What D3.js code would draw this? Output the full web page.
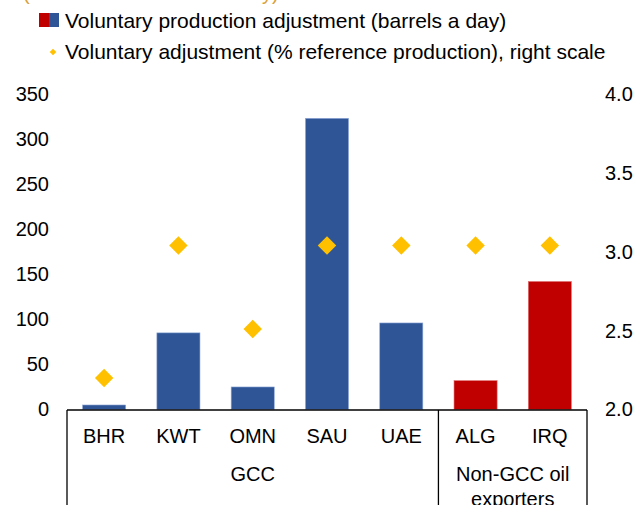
<!DOCTYPE html>
<html>
<head>
<meta charset="utf-8">
<script src="https://cdn.jsdelivr.net/npm/d3@7"></script>
<style>
  body { margin: 0; background: #fff; }
  svg text { font-family: "Liberation Sans", Arial, sans-serif; fill: #000; }
</style>
</head>
<body>
<div id="chart"></div>
<script>
// Data
var countries = ["BHR", "KWT", "OMN", "SAU", "UAE", "ALG", "IRQ"];
var groups = ["GCC", "GCC", "GCC", "GCC", "GCC", "Non-GCC", "Non-GCC"];
var barrels = [5, 85, 25, 323, 96, 32, 142];
var pctReference = [2.2, 3.04, 2.51, 3.04, 3.04, 3.04, 3.04];
var leftTicks = [0, 50, 100, 150, 200, 250, 300, 350];
var rightTicks = [2.0, 2.5, 3.0, 3.5, 4.0];
var groupLabels = [
    { name: "GCC", first: "BHR", last: "UAE", lines: ["GCC"] },
    { name: "Non-GCC", first: "ALG", last: "IRQ", lines: ["Non-GCC oil", "exporters"] }
];

var width = 639, height = 505;
var blue = "#2F5597", red = "#C00000", gold = "#FFC000";

var svg = d3.select("#chart")
    .append("svg")
    .attr("width", width)
    .attr("height", height);

var x = d3.scaleBand()
    .domain(countries)
    .range([67, 587])
    .paddingInner(0.42)
    .paddingOuter(0.21);

var y = d3.scaleLinear()
    .domain([0, 350])
    .range([409.5, 94]);

var y2 = d3.scaleLinear()
    .domain([2, 4])
    .range([409.5, 94]);

// cut-off title at the top (only descenders visible, as in the source)
svg.append("text")
    .attr("x", 23)
    .attr("y", 0)
    .style("font-size", "20px")
    .style("fill", "#D9A13B")
    .text("(Thousands of barrels a day)");

// legend
svg.append("rect").attr("x", 39).attr("y", 13).attr("width", 10).attr("height", 14).attr("fill", red);
svg.append("rect").attr("x", 49).attr("y", 13).attr("width", 10).attr("height", 14).attr("fill", blue);
svg.append("text")
    .attr("x", 65).attr("y", 28)
    .style("font-size", "21px")
    .text("Voluntary production adjustment (barrels a day)");

svg.append("path")
    .attr("d", d3.symbol().type(d3.symbolSquare).size(22)())
    .attr("transform", "translate(53,52) rotate(45)")
    .attr("fill", gold);
svg.append("text")
    .attr("x", 65).attr("y", 59)
    .style("font-size", "21px")
    .text("Voluntary adjustment (% reference production), right scale");

// left axis
var yAxis = svg.append("g")
    .attr("transform", "translate(49,0)")
    .call(d3.axisLeft(y).tickValues(leftTicks).tickSize(0).tickPadding(0).tickFormat(d3.format("d")));
yAxis.select(".domain").remove();
yAxis.selectAll("text").style("font-size", "20px").attr("font-family", null);

// right axis
var yAxis2 = svg.append("g")
    .attr("transform", "translate(605,0)")
    .call(d3.axisRight(y2).tickValues(rightTicks).tickSize(0).tickPadding(0).tickFormat(d3.format(".1f")));
yAxis2.select(".domain").remove();
yAxis2.selectAll("text").style("font-size", "20px").attr("font-family", null);

// bars
svg.selectAll(".bar")
    .data(countries)
    .enter().append("rect")
    .attr("class", "bar")
    .attr("x", function (d) { return x(d); })
    .attr("width", x.bandwidth())
    .attr("y", function (d, i) { return y(barrels[i]); })
    .attr("height", function (d, i) { return y(0) - y(barrels[i]); })
    .attr("fill", function (d, i) { return groups[i] === "GCC" ? blue : red; })
    .attr("stroke", function (d, i) { return groups[i] === "GCC" ? "#8FA8D8" : "#E07070"; })
    .attr("stroke-width", 0.6);

// diamonds (right scale)
svg.selectAll(".dot")
    .data(countries)
    .enter().append("path")
    .attr("class", "dot")
    .attr("d", d3.symbol().type(d3.symbolSquare).size(170)())
    .attr("transform", function (d, i) {
        return "translate(" + (x(d) + x.bandwidth() / 2) + "," + y2(pctReference[i]) + ") rotate(45)";
    })
    .attr("fill", gold);

// category axis box
var x0 = x.range()[0], x1 = x.range()[1];
svg.append("line")
    .attr("x1", x0).attr("x2", x1)
    .attr("y1", 410).attr("y2", 410)
    .attr("stroke", "#000").attr("stroke-width", 1.3);

var halfGap = x.step() * x.paddingInner() / 2;
var edges = [x0];
groupLabels.forEach(function (g) {
    edges.push(Math.min(x1, x(g.last) + x.bandwidth() + halfGap));
});
edges[edges.length - 1] = x1;

svg.selectAll(".sep")
    .data(edges)
    .enter().append("line")
    .attr("x1", function (d) { return d; })
    .attr("x2", function (d) { return d; })
    .attr("y1", 410).attr("y2", height)
    .attr("stroke", "#000").attr("stroke-width", 1.3);

svg.selectAll(".cat")
    .data(countries)
    .enter().append("text")
    .attr("x", function (d) { return x(d) + x.bandwidth() / 2; })
    .attr("y", 443)
    .attr("text-anchor", "middle")
    .style("font-size", "20px")
    .text(function (d) { return d; });

groupLabels.forEach(function (g, gi) {
    var cx = (edges[gi] + edges[gi + 1]) / 2;
    g.lines.forEach(function (line, li) {
        svg.append("text")
            .attr("x", cx)
            .attr("y", 481 + li * 25)
            .attr("text-anchor", "middle")
            .style("font-size", "20px")
            .text(line);
    });
});
</script>
</body>
</html>
